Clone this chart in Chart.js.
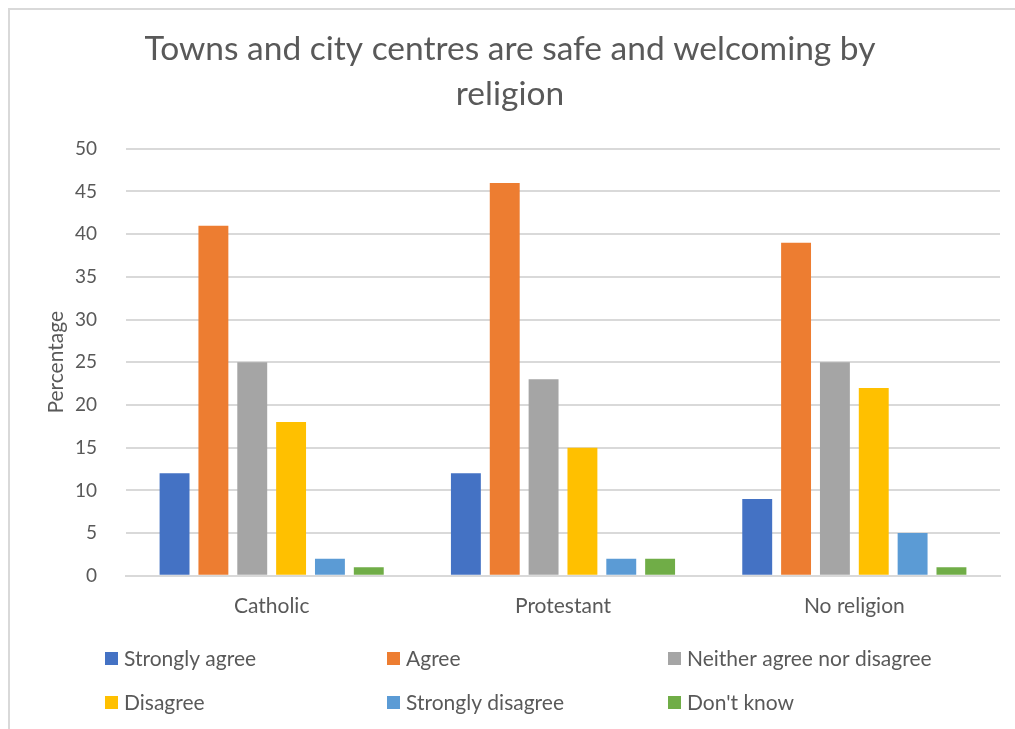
<!DOCTYPE html>
<html>
<head>
<meta charset="utf-8">
<script src="https://cdn.jsdelivr.net/npm/chart.js@4"></script>
<style>
  html, body { margin: 0; padding: 0; background: #fff; }
  #wrap { position: relative; width: 1015px; height: 729px; }
  #frame { position: absolute; left: 8px; top: 8px; right: 0; bottom: 0;
           border-left: 2px solid #d9d9d9; border-top: 2px solid #d9d9d9; }
  canvas { position: absolute; left: 0; top: 0; }
</style>
</head>
<body>
<div id="wrap">
  <div id="frame"></div>
  <canvas id="religionChart" width="1015" height="729"></canvas>
</div>
<script>
const religions = ['Catholic', 'Protestant', 'No religion'];
const responses = ['Strongly agree', 'Agree', 'Neither agree nor disagree', 'Disagree', 'Strongly disagree', "Don't know"];
const stronglyAgree = [12, 12, 9];
const agree = [41, 46, 39];
const neither = [25, 23, 25];
const disagree = [18, 15, 22];
const stronglyDisagree = [2, 2, 5];
const dontKnow = [1, 2, 1];
const yTicks = [0, 5, 10, 15, 20, 25, 30, 35, 40, 45, 50];

const colours = ['#4472C4', '#ED7D31', '#A5A5A5', '#FFC000', '#5B9BD5', '#70AD47'];
const seriesValues = [stronglyAgree, agree, neither, disagree, stronglyDisagree, dontKnow];
const FONT = 'Lato';
const TEXT = '#595959';

// legend laid out as a 3-column grid under the axis
const gridLegend = {
  id: 'gridLegend',
  afterDraw(chart) {
    const ctx = chart.ctx;
    const cols = [105, 387, 668];
    const rows = [658, 702];
    ctx.save();
    ctx.font = '21px ' + FONT;
    ctx.textBaseline = 'middle';
    chart.data.datasets.forEach((ds, i) => {
      const x = cols[i % 3];
      const y = rows[Math.floor(i / 3)];
      ctx.fillStyle = ds.backgroundColor;
      ctx.fillRect(x, y - 6, 13, 13);
      ctx.fillStyle = TEXT;
      ctx.fillText(ds.label, x + 19, y + 1);
    });
    ctx.restore();
  }
};

const ctx = document.getElementById('religionChart').getContext('2d');
new Chart(ctx, {
  type: 'bar',
  data: {
    labels: religions,
    datasets: responses.map((name, i) => ({
      label: name,
      data: seriesValues[i],
      backgroundColor: colours[i],
      categoryPercentage: 0.8,
      barPercentage: 0.77
    }))
  },
  options: {
    responsive: false,
    animation: false,
    layout: { padding: { left: 20, right: 15, top: 27, bottom: 92 } },
    plugins: {
      legend: { display: false },
      tooltip: { enabled: false },
      title: {
        display: true,
        text: ['Towns and city centres are safe and welcoming by', 'religion'],
        color: TEXT,
        font: { family: FONT, size: 33.5, weight: 'normal', lineHeight: 1.34 },
        padding: { top: 0, bottom: 32 }
      }
    },
    scales: {
      x: {
        grid: { display: false, drawTicks: false },
        border: { color: '#d9d9d9', width: 2 },
        ticks: { color: TEXT, font: { family: FONT, size: 21 }, padding: 18 }
      },
      y: {
        min: 0,
        max: 50,
        afterBuildTicks(axis) { axis.ticks = yTicks.map(v => ({ value: v })); },
        // fixed axis width so the plot starts where the grid lines begin
        afterFit(axis) { axis.width = 106; },
        grid: { color: '#d9d9d9', lineWidth: 2, drawTicks: false },
        border: { display: false },
        ticks: { color: TEXT, font: { family: FONT, size: 19 }, padding: 29 },
        title: {
          display: true,
          text: 'Percentage',
          color: TEXT,
          font: { family: FONT, size: 21 },
          padding: { top: 24, bottom: 0 }
        }
      }
    }
  },
  plugins: [gridLegend]
});
</script>
</body>
</html>
